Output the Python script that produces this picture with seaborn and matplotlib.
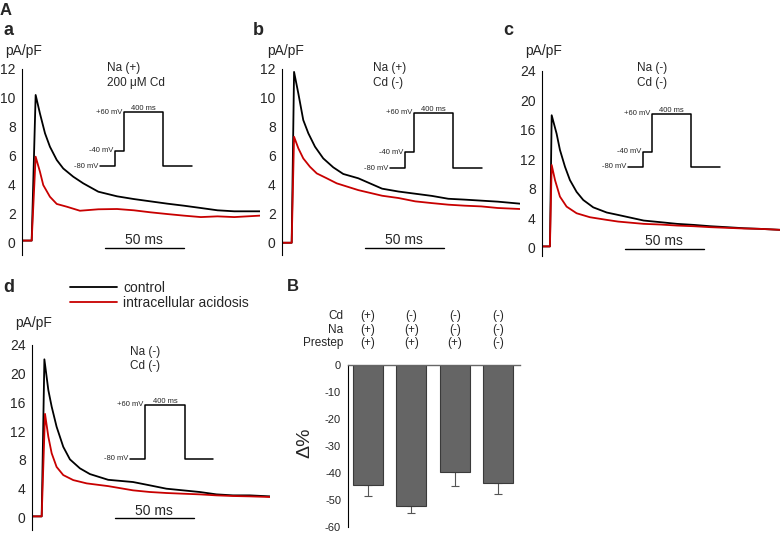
import numpy as np
import matplotlib
matplotlib.use('Agg')
import matplotlib.pyplot as plt
import matplotlib.transforms as mtransforms
import seaborn as sns

# --- current traces (time in ms, current in pA/pF)
t_a_ctrl = [0, 6.1, 8.6, 11.3, 14.5, 17.6, 21.9, 26, 32.3, 38.6, 48.1, 59.9, 70.5, 81, 91.6, 102, 112.7, 123.2, 133.8, 150]
ctrl_a = [0.1, 0.1, 10.2, 8.92, 7.54, 6.61, 5.69, 5.1, 4.53, 4.07, 3.49, 3.17, 2.98, 2.82, 2.66, 2.52, 2.36, 2.2, 2.13, 2.13]
t_a_acid = [0, 6.1, 8.6, 11.3, 13.4, 17.6, 21.9, 28.2, 36.5, 48.1, 59.9, 70.5, 81, 91.6, 102, 112.7, 123.2, 133.8, 150]
acid_a = [0.1, 0.1, 5.92, 4.88, 3.95, 3.14, 2.64, 2.45, 2.17, 2.27, 2.29, 2.2, 2.06, 1.94, 1.83, 1.73, 1.78, 1.73, 1.83]

t_b_ctrl = [0, 6.1, 7.6, 10.3, 13.4, 16.6, 20.8, 26, 32.3, 38.6, 48.1, 63.1, 73.5, 84, 94.4, 104.8, 115.2, 125.6, 136, 150]
ctrl_b = [-0.05, -0.05, 11.8, 10.3, 8.46, 7.54, 6.61, 5.8, 5.18, 4.72, 4.42, 3.7, 3.5, 3.35, 3.2, 3.0, 2.94, 2.87, 2.8, 2.66]
t_b_acid = [0, 6.1, 7.6, 10.3, 13.4, 17.6, 21.9, 28.2, 34.5, 48.1, 63.1, 73.5, 84, 94.4, 104.8, 115.2, 125.6, 136, 150]
acid_b = [-0.05, -0.05, 7.3, 6.5, 5.8, 5.22, 4.76, 4.42, 4.07, 3.6, 3.21, 3.05, 2.82, 2.7, 2.59, 2.52, 2.47, 2.36, 2.29]

t_c_ctrl = [0, 5.0, 6.1, 9.2, 11.3, 14.5, 17.6, 21.8, 26, 32.3, 40.8, 48, 64.1, 74.6, 85.1, 95.6, 106.1, 116.6, 127.1, 137.6, 150]
ctrl_c = [0.2, 0.2, 18.0, 15.5, 13.3, 11.0, 9.2, 7.6, 6.5, 5.5, 4.8, 4.47, 3.71, 3.49, 3.26, 3.12, 2.94, 2.81, 2.67, 2.58, 2.45]
t_c_acid = [0, 5.0, 6.1, 8.2, 11.3, 15.5, 21.8, 30.2, 40.8, 48, 64.1, 74.6, 85.1, 95.6, 106.1, 116.6, 127.1, 137.6, 150]
acid_c = [0.2, 0.2, 11.25, 9.2, 6.96, 5.6, 4.7, 4.16, 3.8, 3.57, 3.26, 3.17, 3.03, 2.94, 2.81, 2.72, 2.63, 2.58, 2.45]

t_d_ctrl = [0, 6.1, 7.8, 10.3, 12.4, 15.5, 19.7, 23.9, 30.2, 36.5, 48, 63.7, 74.2, 84.7, 95.2, 105.7, 116.2, 126.7, 137.2, 150]
ctrl_d = [0.1, 0.1, 22.0, 17.7, 15.4, 12.6, 9.8, 8.05, 6.8, 6.0, 5.2, 4.89, 4.43, 3.96, 3.73, 3.5, 3.17, 3.03, 3.03, 2.89]
t_d_acid = [0, 6.1, 8.2, 10.3, 12.4, 15.5, 19.7, 26, 34.5, 48, 63.7, 74.2, 84.7, 95.2, 105.7, 116.2, 126.7, 137.2, 150]
acid_d = [0.1, 0.1, 14.4, 11.2, 8.9, 7.0, 5.86, 5.16, 4.7, 4.32, 3.73, 3.5, 3.36, 3.26, 3.17, 3.03, 2.94, 2.89, 2.8]

# --- voltage protocols (schematic widths, mV)
prot_pre_t = [0, 15, 15, 24, 24, 63, 63, 92]
prot_pre_v = [-80, -80, -40, -40, 60, 60, -80, -80]
prot_nopre_t = [0, 15, 15, 55, 55, 83]
prot_nopre_v = [-80, -80, 60, 60, -80, -80]

# --- panel B summary
groups = ['1', '2', '3', '4']
cd_state = ['(+)', '(-)', '(-)', '(-)']
na_state = ['(+)', '(+)', '(-)', '(-)']
prestep_state = ['(+)', '(+)', '(+)', '(-)']
delta_mean = [-44.4, -52.4, -39.7, -43.6]
delta_err = [4.0, 2.4, 5.0, 4.0]

sns.set_style('white')
plt.rcParams['font.family'] = ['Liberation Sans', 'DejaVu Sans']
plt.rcParams['axes.unicode_minus'] = False

W, H = 780, 533
fig = plt.figure(figsize=(7.8, 5.33), dpi=100)
RED = '#c80000'


def box(x0, y0, x1, y1):
    return [x0 / W, 1 - y1 / H, (x1 - x0) / W, (y1 - y0) / H]


def ftext(x, y, s, **kw):
    return fig.text(x / W, 1 - y / H, s, **kw)


def trace_panel(rect, tc, ctrl, ta, acid, ylim, yticks, sb_y, with_label=False):
    ax = fig.add_axes(box(*rect))
    sns.lineplot(x=tc, y=ctrl, ax=ax, color='black', lw=1.3,
                 label='control' if with_label else None, legend=False)
    sns.lineplot(x=ta, y=acid, ax=ax, color=RED, lw=1.3,
                 label='intracellular acidosis' if with_label else None, legend=False)
    ax.set_xlim(0, 150)
    ax.set_ylim(*ylim)
    ax.set_yticks(yticks)
    ax.set_xticks([])
    ax.set_xlabel('')
    ax.set_ylabel('')
    for s in ['top', 'right', 'bottom']:
        ax.spines[s].set_visible(False)
    ax.spines['left'].set_color('black')
    ax.spines['left'].set_linewidth(0.8)
    ax.spines['left'].set_bounds(ylim[0], yticks[-1])
    ax.tick_params(axis='y', direction='in', length=1.5, width=0.5, pad=4.5, labelsize=10)
    # 50 ms scale bar
    ax.plot([52, 102], [sb_y, sb_y], color='black', lw=1.0, clip_on=False)
    ax.annotate('50 ms', xy=(77, sb_y), xytext=(0, 2.5), textcoords='offset points',
                ha='center', va='baseline', fontsize=10)
    ax.patch.set_alpha(0)
    return ax


def protocol(x0, ytop, ybot, t, v, labels):
    ax = fig.add_axes(box(x0, ytop, x0 + t[-1], ybot))
    ax.plot(t, v, color='black', lw=1.1, clip_on=False)
    ax.set_xlim(0, t[-1])
    ax.set_ylim(-80, 60)
    ax.axis('off')
    for (tx, lv, s) in labels:
        ax.text(tx - 1.5, lv, s, ha='right', va='center', fontsize=5.5)
    hi = [t[i] for i in range(len(v)) if v[i] == 60]
    ax.text((hi[0] + hi[-1]) / 2, 60, '400 ms', ha='center', va='bottom', fontsize=5.5)


ax_a = trace_panel((22, 69, 260, 255), t_a_ctrl, ctrl_a, t_a_acid, acid_a,
                   (-0.9, 12), [0, 2, 4, 6, 8, 10, 12], -0.4)
ax_b = trace_panel((282, 69, 520, 255), t_b_ctrl, ctrl_b, t_b_acid, acid_b,
                   (-0.9, 12), [0, 2, 4, 6, 8, 10, 12], -0.4)
ax_c = trace_panel((542, 71, 780, 256), t_c_ctrl, ctrl_c, t_c_acid, acid_c,
                   (-1.1, 24), [0, 4, 8, 12, 16, 20, 24], -0.1)
ax_d = trace_panel((32, 345, 270, 530), t_d_ctrl, ctrl_d, t_d_acid, acid_d,
                   (-1.8, 24), [0, 4, 8, 12, 16, 20, 24], -0.15, with_label=True)

pre_labels = [(0, -80, '-80 mV'), (15, -40, '-40 mV'), (24, 60, '+60 mV')]
nopre_labels = [(0, -80, '-80 mV'), (15, 60, '+60 mV')]
protocol(100, 112, 166, prot_pre_t, prot_pre_v, pre_labels)
protocol(390, 113, 168, prot_pre_t, prot_pre_v, pre_labels)
protocol(628, 114, 167, prot_pre_t, prot_pre_v, pre_labels)
protocol(130, 405, 459, prot_nopre_t, prot_nopre_v, nopre_labels)

# condition texts
ftext(107, 71, 'Na (+)', fontsize=8.5)
ftext(107, 86, '200 μM Cd', fontsize=8.5)
ftext(373, 71, 'Na (+)', fontsize=8.5)
ftext(373, 86, 'Cd (-)', fontsize=8.5)
ftext(637, 71, 'Na (-)', fontsize=8.5)
ftext(637, 86, 'Cd (-)', fontsize=8.5)
ftext(130, 355, 'Na (-)', fontsize=8.5)
ftext(130, 369, 'Cd (-)', fontsize=8.5)

# units
ftext(5, 55, 'pA/pF', fontsize=10)
ftext(267, 55, 'pA/pF', fontsize=10)
ftext(525, 55, 'pA/pF', fontsize=10)
ftext(15, 327, 'pA/pF', fontsize=10)

# panel letters
ftext(0, 15, 'A', fontsize=12, fontweight='bold')
ftext(3, 35, 'a', fontsize=13, fontweight='bold')
ftext(253, 35, 'b', fontsize=13, fontweight='bold')
ftext(503, 35, 'c', fontsize=13, fontweight='bold')
ftext(3, 292, 'd', fontsize=13, fontweight='bold')
ftext(287, 291, 'B', fontsize=12, fontweight='bold')

# legend
h, l = ax_d.get_legend_handles_labels()
ax_d.legend(h, l, loc='upper left', bbox_to_anchor=(70 / W, 1 - 281 / H),
            bbox_transform=fig.transFigure, frameon=False, fontsize=10,
            handlelength=3.4, handletextpad=0.45, labelspacing=0.08,
            borderpad=0, borderaxespad=0)

# --- panel B
ax_B = fig.add_axes(box(348, 365, 520, 527))
sns.barplot(x=groups, y=delta_mean, ax=ax_B, color='#656565', edgecolor='#3a3a3a',
            linewidth=0.8, saturation=1, width=0.69, errorbar=None)
ax_B.errorbar(range(len(groups)), delta_mean, yerr=[delta_err, [0] * len(groups)],
              fmt='none', ecolor='#555555', elinewidth=0.8, capsize=3, capthick=0.8, zorder=0)
ax_B.set_xlim(-0.46, 3.5)
ax_B.set_ylim(-60, 0)
ax_B.set_yticks(range(-60, 1, 10))
ax_B.set_xticks([])
ax_B.set_xlabel('')
ax_B.set_ylabel('')
ax_B.spines['bottom'].set_visible(False)
ax_B.spines['right'].set_visible(False)
ax_B.spines['left'].set_linewidth(0.8)
ax_B.spines['left'].set_color('black')
ax_B.spines['top'].set_linewidth(1.0)
ax_B.spines['top'].set_color('#666666')
ax_B.tick_params(axis='y', direction='in', length=3, width=0.6, pad=5, labelsize=8)
ax_B.patch.set_alpha(0)
ftext(305, 443, 'Δ%', fontsize=14, rotation=90, ha='center', va='center')

trans = mtransforms.blended_transform_factory(ax_B.transData, fig.transFigure)
for name, states, yb in [('Cd', cd_state, 319), ('Na', na_state, 333), ('Prestep', prestep_state, 346)]:
    ftext(343, yb, name, fontsize=8.5, ha='right', va='baseline')
    for i, s in enumerate(states):
        ax_B.text(i, 1 - yb / H, s, transform=trans, ha='center', va='baseline', fontsize=8.5)

fig.savefig('out.png', dpi=100)
